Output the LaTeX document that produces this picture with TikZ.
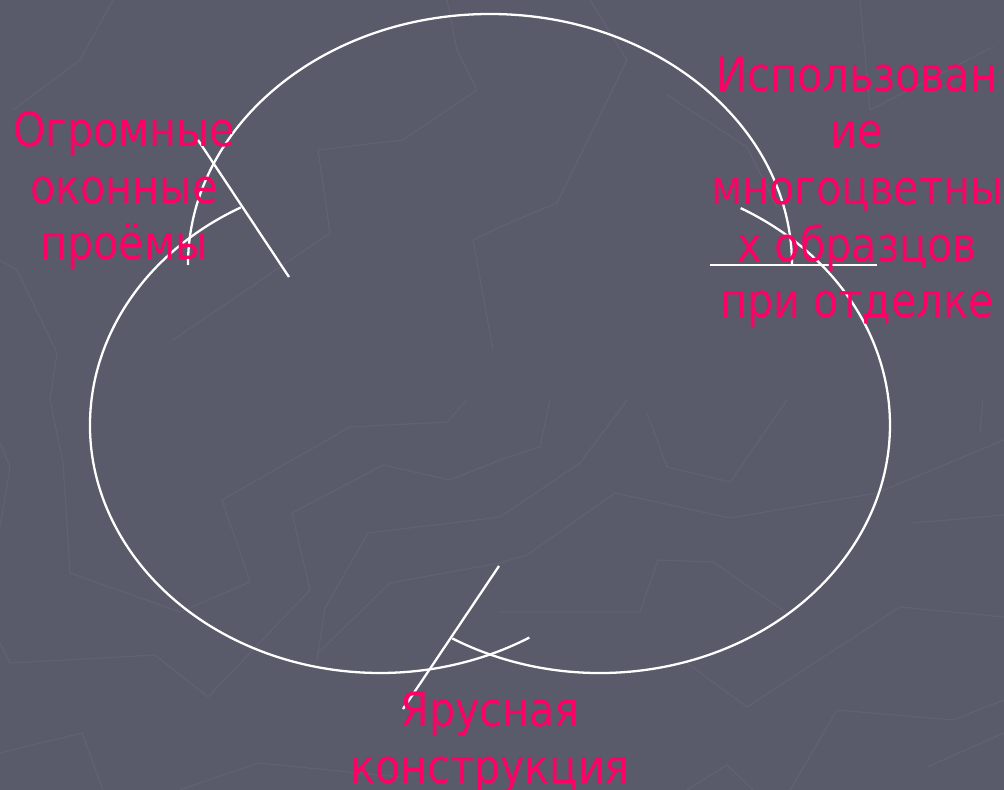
\documentclass[tikz,border=0pt]{standalone}
\usepackage{fontspec}
\newfontfamily\labelfont[FakeStretch=0.87]{DejaVu Sans}
\definecolor{cSlate}{RGB}{89,91,106}
\definecolor{cTrace}{RGB}{96,98,114}
\definecolor{cRose}{RGB}{255,0,102}
\tikzset{
	ring/.style={draw=white, line width=1.3pt},
	spoke/.style={draw=white, line width=1.3pt},
	trace/.style={draw=cTrace, line width=0.7pt, line join=round},
	lbl/.style={text=cRose, align=center, inner sep=0pt, anchor=base,
		font=\labelfont\fontsize{27}{32.3}\selectfont},
}
\begin{document}
\begin{tikzpicture}[x=0.02cm, y=-0.02cm]
	% background
	\fill[cSlate] (0,0) rectangle (1004,790);
	\useasboundingbox (0,0) rectangle (1004,790);
	\draw[trace] (113,0) -- (80,60) -- (13,110);
	\draw[trace] (0,260) -- (17,270) -- (57,353) -- (50,400) -- (63,462) -- (70,573) -- (180,612) -- (250,582) -- (222,500) -- (350,427) -- (447,422) -- (467,400);
	\draw[trace] (0,643) -- (10,663) -- (155,655) -- (208,697) -- (310,590) -- (292,513) -- (383,465) -- (450,480) -- (500,460) -- (540,447) -- (550,400);
	\draw[trace] (0,753) -- (82,733) -- (103,790);
	\draw[trace] (317,660) -- (325,608) -- (368,533) -- (500,517) -- (580,463) -- (627,400);
	\draw[trace] (318,653) -- (390,583) -- (500,563) -- (527,555) -- (615,493) -- (730,518) -- (877,493) -- (1004,440);
	\draw[trace] (180,790) -- (258,763) -- (400,777);
	\draw[trace] (0,443) -- (10,467) -- (0,527);
	\draw[trace] (447,0) -- (457,50) -- (477,90) -- (403,140) -- (318,150) -- (330,233) -- (173,340);
	\draw[trace] (473,240) -- (500,227) -- (557,203) -- (627,60) -- (590,0);
	\draw[trace] (473,240) -- (493,350);
	\draw[trace] (667,95) -- (747,147) -- (777,207);
	\draw[trace] (860,0) -- (870,110) -- (993,47);
	\draw[trace] (647,413) -- (667,467) -- (730,482) -- (787,400);
	\draw[trace] (500,612) -- (640,612) -- (658,560) -- (713,562) -- (787,613);
	\draw[trace] (687,663) -- (747,707) -- (900,607) -- (1004,617);
	\draw[trace] (913,523) -- (1004,515);
	\draw[trace] (790,790) -- (837,710) -- (953,720) -- (1004,700);
	\draw[trace] (927,767) -- (1004,733);
	\draw[trace] (687,790) -- (727,765) -- (753,790);
	\draw[trace] (980,433) -- (983,400);
	% arcs
	\draw[ring] (490,265) ++(180:302 and 251) arc[start angle=180, end angle=360, x radius=302, y radius=251];
	\draw[ring] (380,425) ++(241.3:290 and 248) arc[start angle=241.3, end angle=59, x radius=290, y radius=248];
	\draw[ring] (600,425) ++(120.6:290 and 248) arc[start angle=120.6, end angle=-61, x radius=290, y radius=248];
	% spokes
	\coordinate (sA1) at (198,140);
	\coordinate (sA2) at (289,277);
	\coordinate (sB1) at (403,709);
	\coordinate (sB2) at (499,566);
	\coordinate (sC1) at (710,265);
	\coordinate (sC2) at (877,265);
	\draw[spoke] (sA1) -- (sA2);
	\draw[spoke] (sB1) -- (sB2);
	\draw[spoke] (sC1) -- (sC2);
	% labels
	\node[lbl] (windows) at (124,260) {Огромные\\оконные\\проёмы};
	\node[lbl] (colours) at (857,318) {Использован\\ие\\многоцветны\\х образцов\\при отделке};
	\node[lbl] (tiers) at (490,783) {Ярусная\\конструкция};
\end{tikzpicture}
\end{document}
